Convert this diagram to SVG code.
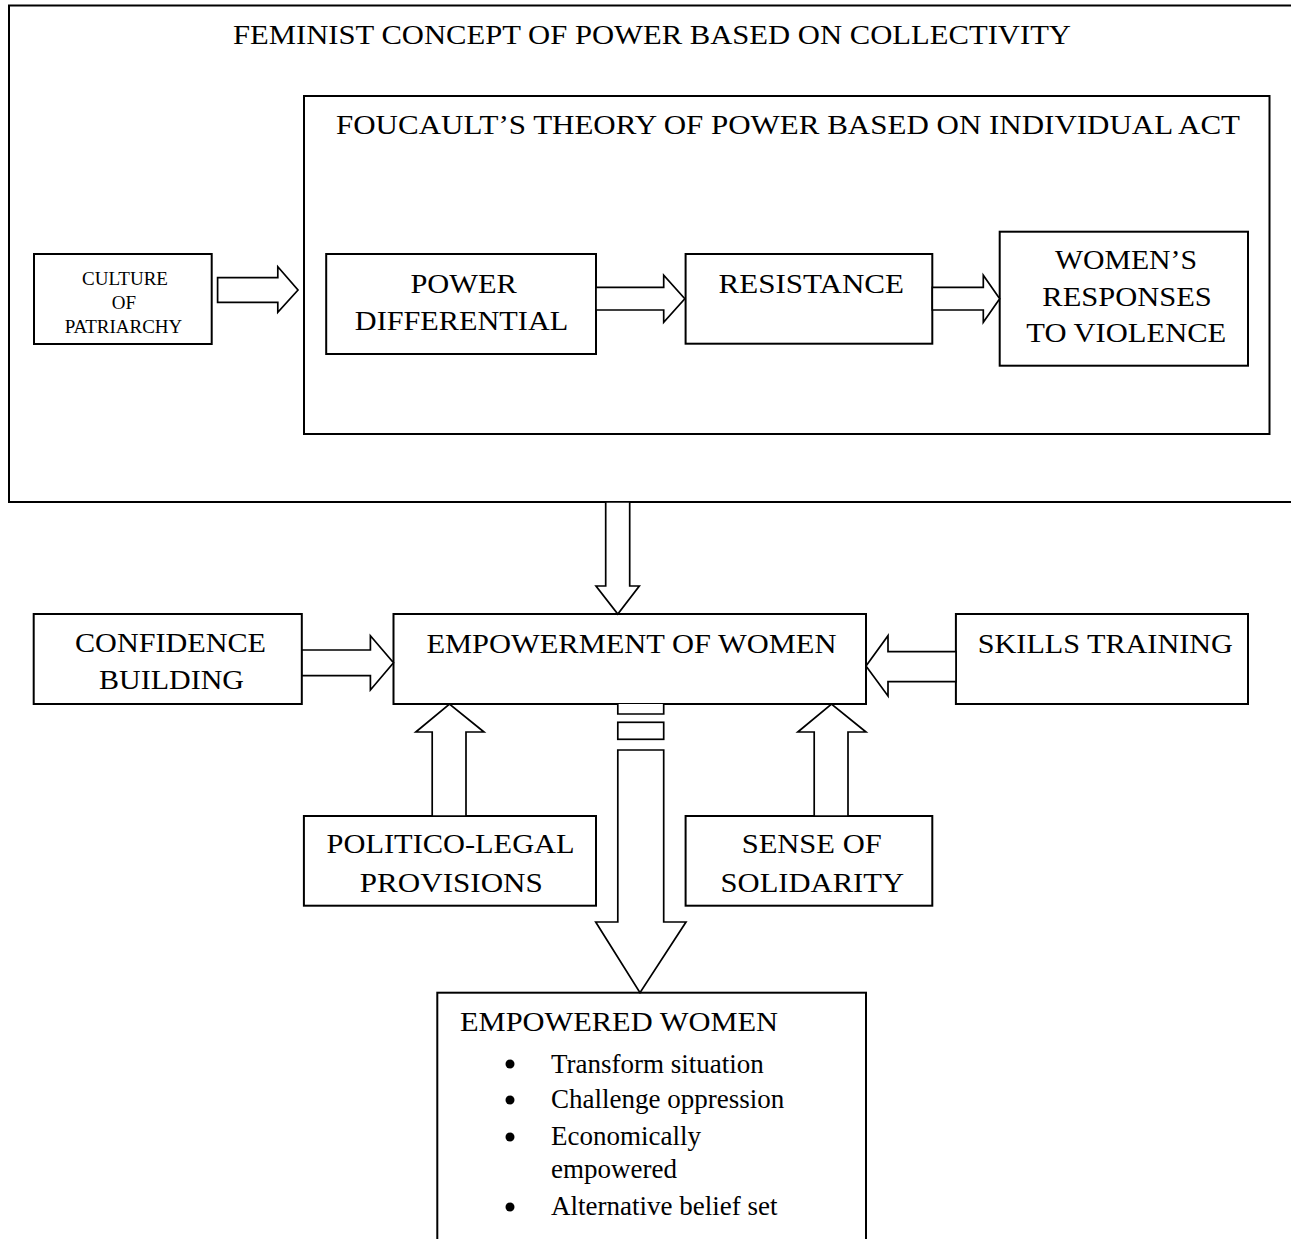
<svg xmlns="http://www.w3.org/2000/svg" width="1291" height="1239" viewBox="0 0 1291 1239">
<style>
.box{fill:#fff;stroke:#000;stroke-width:2}
.frame{fill:none;stroke:#000;stroke-width:2}
.arr{fill:#fff;stroke:#000;stroke-width:1.7;stroke-linejoin:miter}
text{font-family:"Liberation Serif","Times New Roman",serif;fill:#000}
.t{font-size:28px}
.s{font-size:19px;text-anchor:middle}
.b{font-size:27px}
</style>
<rect width="1291" height="1239" fill="#fff"/>
<g id="feminist">
<rect class="frame" x="9" y="5.5" width="1286" height="496.5"/>
<text class="t" x="233" y="44" textLength="838" lengthAdjust="spacingAndGlyphs">FEMINIST CONCEPT OF POWER BASED ON COLLECTIVITY</text>
</g>
<g id="foucault">
<rect class="frame" x="304" y="96" width="965.5" height="338"/>
<text class="t" x="336" y="134" textLength="904" lengthAdjust="spacingAndGlyphs">FOUCAULT’S THEORY OF POWER BASED ON INDIVIDUAL ACT</text>
</g>
<g id="culture">
<rect class="box" x="34" y="254" width="177.7" height="90"/>
<text class="s" x="125" y="284.5">CULTURE</text>
<text class="s" x="124" y="309">OF</text>
<text class="s" x="123.5" y="333.3">PATRIARCHY</text>
</g>
<g id="power">
<rect class="box" x="326.2" y="254" width="269.8" height="100"/>
<text class="t" x="410.4" y="292.5" textLength="106.4" lengthAdjust="spacingAndGlyphs">POWER</text>
<text class="t" x="354.8" y="330" textLength="213.4" lengthAdjust="spacingAndGlyphs">DIFFERENTIAL</text>
</g>
<g id="resistance">
<rect class="box" x="685.6" y="254" width="246.7" height="89.7"/>
<text class="t" x="718.5" y="293" textLength="185.5" lengthAdjust="spacingAndGlyphs">RESISTANCE</text>
</g>
<g id="responses">
<rect class="box" x="999.7" y="231.7" width="248.3" height="134"/>
<text class="t" x="1055" y="269.3" textLength="142" lengthAdjust="spacingAndGlyphs">WOMEN’S</text>
<text class="t" x="1042.3" y="306" textLength="169.5" lengthAdjust="spacingAndGlyphs">RESPONSES</text>
<text class="t" x="1026.3" y="342.3" textLength="200" lengthAdjust="spacingAndGlyphs">TO VIOLENCE</text>
</g>
<g id="empowerment">
<rect class="box" x="393.5" y="614" width="472.5" height="90"/>
<text class="t" x="426.4" y="653.3" textLength="410" lengthAdjust="spacingAndGlyphs">EMPOWERMENT OF WOMEN</text>
</g>
<g id="confidence">
<rect class="box" x="33.7" y="614" width="268.1" height="90"/>
<text class="t" x="75" y="651.7" textLength="191" lengthAdjust="spacingAndGlyphs">CONFIDENCE</text>
<text class="t" x="99" y="689" textLength="145" lengthAdjust="spacingAndGlyphs">BUILDING</text>
</g>
<g id="skills">
<rect class="box" x="955.9" y="614" width="292.1" height="90"/>
<text class="t" x="977.8" y="653.3" textLength="255" lengthAdjust="spacingAndGlyphs">SKILLS TRAINING</text>
</g>
<g id="politico">
<rect class="box" x="303.9" y="816" width="292.1" height="89.7"/>
<text class="t" x="326.6" y="853.3" textLength="248" lengthAdjust="spacingAndGlyphs">POLITICO-LEGAL</text>
<text class="t" x="359.8" y="891.7" textLength="183" lengthAdjust="spacingAndGlyphs">PROVISIONS</text>
</g>
<g id="solidarity">
<rect class="box" x="685.6" y="816" width="246.7" height="89.7"/>
<text class="t" x="741.7" y="853.3" textLength="140" lengthAdjust="spacingAndGlyphs">SENSE OF</text>
<text class="t" x="720.6" y="891.7" textLength="183.4" lengthAdjust="spacingAndGlyphs">SOLIDARITY</text>
</g>
<g id="empowered">
<rect class="box" x="437.3" y="992.7" width="428.7" height="260"/>
<text class="t" x="460" y="1031" textLength="318" lengthAdjust="spacingAndGlyphs">EMPOWERED WOMEN</text>
<circle cx="510" cy="1064" r="4.5"/>
<text class="b" x="551" y="1072.5">Transform situation</text>
<circle cx="510" cy="1100" r="4.5"/>
<text class="b" x="551" y="1108">Challenge oppression</text>
<circle cx="510" cy="1137" r="4.5"/>
<text class="b" x="551" y="1145">Economically</text>
<text class="b" x="551" y="1178">empowered</text>
<circle cx="510" cy="1207" r="4.5"/>
<text class="b" x="551" y="1215">Alternative belief set</text>
</g>
<g id="connectors">
<polygon class="arr" points="217.6,277.7 277.8,277.7 277.8,266.7 298,290 277.8,312.3 277.8,302.3 217.6,302.3"/>
<polygon class="arr" points="596,287.3 663.7,287.3 663.7,275.3 684.8,298.8 663.7,322.3 663.7,310 596,310"/>
<polygon class="arr" points="932.3,287.3 983.3,287.3 983.3,275.3 999.7,298.8 983.3,322.3 983.3,310 932.3,310"/>
<polygon class="arr" points="605.7,502 629.7,502 629.7,586 639.3,586 617.8,614 596,586 605.7,586"/>
<polygon class="arr" points="302,650 370.4,650 370.4,635.7 393.5,662.8 370.4,690 370.4,675.7 302,675.7"/>
<polygon class="arr" points="956,651.7 888,651.7 888,635.7 866,666 888,696 888,681.7 956,681.7"/>
<polygon class="arr" points="432.2,816 432.2,732 415.8,732 449.5,704 484,732 466,732 466,816"/>
<polygon class="arr" points="814.2,816 814.2,732 797.8,732 831.5,704 866,732 848,732 848,816"/>
<path class="arr" d="M617.8,704 V714 H663.7 V704"/>
<rect class="arr" x="617.8" y="722.3" width="45.9" height="17"/>
<polygon class="arr" points="617.8,750 663.7,750 663.7,922 686,922 640,992.7 595.7,922 617.8,922"/>
</g>
</svg>
